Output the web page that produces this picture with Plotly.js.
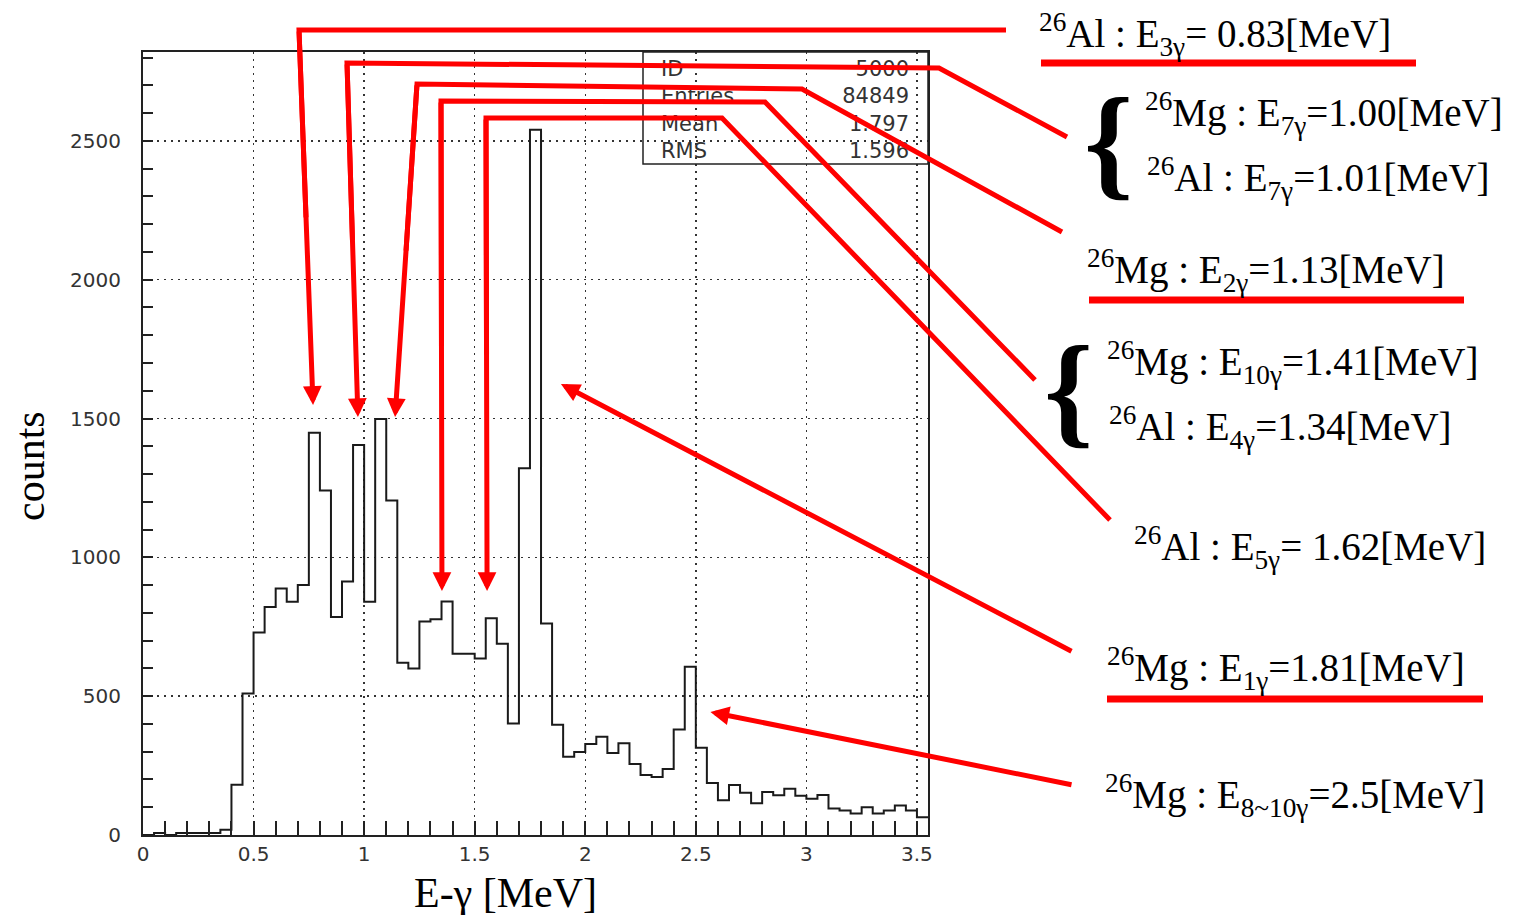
<!DOCTYPE html>
<html>
<head>
<meta charset="utf-8">
<script src="https://cdn.plot.ly/plotly-3.0.1.min.js"></script>
<style>html,body{margin:0;padding:0;background:#fff;}</style>
</head>
<body>
<div id="chart" style="width:1514px;height:915px;"></div>
<script>
// Gamma-ray energy spectrum, 0.05 MeV bins from 0 to 3.55 MeV
const BIN_START = 0;
const BIN_WIDTH = 0.05;
const counts = [
  0, 7, 0, 7, 7, 7, 7, 19, 181, 510,
  729, 821, 888, 840, 900, 1449, 1241, 785, 913, 1405,
  840, 1498, 1205, 620, 600, 769, 777, 841, 653, 653,
  636, 781, 689, 402, 1321, 2540, 762, 397, 282, 299,
  328, 354, 295, 330, 256, 216, 209, 238, 380, 606,
  314, 187, 125, 180, 152, 114, 155, 143, 167, 141,
  131, 144, 95, 88, 77, 100, 77, 88, 106, 88, 64
];

const X_RANGE = [0, 3.55];
const Y_RANGE = [0, 2820];
const xTickVals = [0, 0.5, 1, 1.5, 2, 2.5, 3, 3.5];
const xTickText = ['0', '0.5', '1', '1.5', '2', '2.5', '3', '3.5'];
const yTickVals = [0, 500, 1000, 1500, 2000, 2500];
const yTickText = ['0', '500', '1000', '1500', '2000', '2500'];
const xTitle = 'E-γ [MeV]';
const yTitle = 'counts';

// Statistics box
const statNames = ['ID', 'Entries', 'Mean', 'RMS'];
const statValues = ['5000', '84849', '1.797', '1.596'];

// Peak identifications
const labelTexts = [
  '<sup>26</sup>Al : E<sub>3γ</sub>= 0.83[MeV]',
  '<sup>26</sup>Mg : E<sub>7γ</sub>=1.00[MeV]',
  '<sup>26</sup>Al : E<sub>7γ</sub>=1.01[MeV]',
  '<sup>26</sup>Mg : E<sub>2γ</sub>=1.13[MeV]',
  '<sup>26</sup>Mg : E<sub>10γ</sub>=1.41[MeV]',
  '<sup>26</sup>Al : E<sub>4γ</sub>=1.34[MeV]',
  '<sup>26</sup>Al : E<sub>5γ</sub>= 1.62[MeV]',
  '<sup>26</sup>Mg : E<sub>1γ</sub>=1.81[MeV]',
  '<sup>26</sup>Mg : E<sub>8~10γ</sub>=2.5[MeV]'
];
// where each arrow points on the spectrum (energy in MeV, counts)
const calloutTipEnergy = [0.769, 0.972, 1.140, 1.352, 1.556, 1.890, 2.566];
const calloutTipCounts = [1549, 1505, 1505, 879, 879, 1624, 443];

// ---- page geometry (pixels) ----
const W = 1514, H = 915;
const M = {l: 143, r: 586, t: 52, b: 80};
const PW = W - M.l - M.r, PH = H - M.t - M.b;
const toPaperX = px => (px - M.l) / PW;
const toPaperY = py => (H - M.b - py) / PH;
const toDataX = px => X_RANGE[0] + toPaperX(px) * (X_RANGE[1] - X_RANGE[0]);
const toDataY = py => Y_RANGE[0] + toPaperY(py) * (Y_RANGE[1] - Y_RANGE[0]);
const pxFromDataX = e => M.l + (e - X_RANGE[0]) / (X_RANGE[1] - X_RANGE[0]) * PW;
const pxFromDataY = c => H - M.b - (c - Y_RANGE[0]) / (Y_RANGE[1] - Y_RANGE[0]) * PH;

// connector routes from the labels to the start of each arrow
const calloutRoutes = [
  [[1006, 30], [299, 30]],
  [[1067, 137], [939, 68], [347, 63]],
  [[1062, 232], [802, 89], [417, 84]],
  [[1035, 380], [765, 102], [441, 101]],
  [[1110, 520], [722, 118], [486, 118]],
  [[1073, 652]],
  [[1073, 785]]
];
const labelLeft = [1037, 1143, 1145, 1085, 1105, 1107, 1132, 1105, 1103];
const labelBaseline = [49, 128, 193, 285, 377, 442, 562, 683, 810];
const underlines = [[1041, 1416, 63], [1089, 1464, 300], [1107, 1483, 699]];
const braces = [[1108, 142], [1068, 390]];

const RED = '#ff0000';
const SERIF = 'Liberation Serif, Times New Roman, serif';
const SANS = 'DejaVu Sans, sans-serif';

// histogram drawn as a step outline over the bin edges
const edges = counts.map((_, i) => +(BIN_START + i * BIN_WIDTH).toFixed(4));
edges.push(+(BIN_START + counts.length * BIN_WIDTH).toFixed(4));
const stepY = counts.concat([counts[counts.length - 1]]);

const traces = [{
  type: 'scatter',
  mode: 'lines',
  x: edges,
  y: stepY,
  line: {shape: 'hv', color: '#1a1a1a', width: 2},
  hoverinfo: 'skip'
}];

const shapes = [];
const annotations = [];

// statistics box (drawn first so connectors pass over it)
shapes.push({
  type: 'rect', xref: 'paper', yref: 'paper',
  x0: toPaperX(643), x1: 1, y0: toPaperY(164), y1: 1,
  line: {color: '#222', width: 1.5}, fillcolor: 'rgba(0,0,0,0)',
  label: {text: statNames.join('<br>'), textposition: 'middle left', padding: 15,
          font: {family: SANS, size: 21, color: '#333'}}
});
shapes.push({
  type: 'rect', xref: 'paper', yref: 'paper',
  x0: toPaperX(643), x1: 1, y0: toPaperY(164), y1: 1,
  line: {width: 0}, fillcolor: 'rgba(0,0,0,0)',
  label: {text: statValues.join('<br>'), textposition: 'middle right', padding: 16,
          font: {family: SANS, size: 21, color: '#333'}}
});

// connectors and arrows
calloutRoutes.forEach((route, i) => {
  const bend = route[route.length - 1];
  const tipPx = [pxFromDataX(calloutTipEnergy[i]), pxFromDataY(calloutTipCounts[i])];
  if (route.length > 1) {
    const pts = route.concat([[bend[0] + 0.5 * (tipPx[0] - bend[0]), bend[1] + 0.5 * (tipPx[1] - bend[1])]]);
    const d = pts.map((p, k) => (k ? 'L' : 'M') + toPaperX(p[0]).toFixed(5) + ',' + toPaperY(p[1]).toFixed(5)).join(' ');
    shapes.push({type: 'path', xref: 'paper', yref: 'paper', path: d,
                 line: {color: RED, width: 5}});
  }
  annotations.push({
    xref: 'x', yref: 'y', x: calloutTipEnergy[i], y: calloutTipCounts[i],
    axref: 'x', ayref: 'y', ax: toDataX(bend[0]), ay: toDataY(bend[1]),
    text: '', showarrow: true, arrowhead: 2, arrowsize: 0.75, arrowwidth: 5,
    arrowcolor: RED, standoff: 0, startstandoff: 0
  });
});

underlines.forEach(u => {
  shapes.push({type: 'line', xref: 'paper', yref: 'paper',
               x0: toPaperX(u[0]), x1: toPaperX(u[1]), y0: toPaperY(u[2]), y1: toPaperY(u[2]),
               line: {color: RED, width: 7}});
});

labelTexts.forEach((t, i) => {
  annotations.push({
    xref: 'paper', yref: 'paper', x: toPaperX(labelLeft[i]), y: toPaperY(labelBaseline[i] - 15),
    xanchor: 'left', yanchor: 'middle', showarrow: false, text: t,
    font: {family: SERIF, size: 39, color: '#000'}
  });
});

braces.forEach(b => {
  annotations.push({
    xref: 'paper', yref: 'paper', x: toPaperX(b[0]), y: toPaperY(b[1]),
    xanchor: 'center', yanchor: 'middle', showarrow: false, text: '{',
    font: {family: SERIF, size: 125, color: '#000', weight: 'bold'}
  });
});

// axis titles
annotations.push({
  xref: 'paper', yref: 'paper', x: toPaperX(505), y: toPaperY(893),
  xanchor: 'center', yanchor: 'middle', showarrow: false, text: xTitle,
  font: {family: SERIF, size: 42, color: '#000'}
});
annotations.push({
  xref: 'paper', yref: 'paper', x: toPaperX(30), y: toPaperY(466),
  xanchor: 'center', yanchor: 'middle', showarrow: false, text: yTitle, textangle: -90,
  font: {family: SERIF, size: 42, color: '#000'}
});

const axisCommon = {
  tickmode: 'array', ticks: 'inside', tickwidth: 2, tickcolor: '#222',
  showline: true, linecolor: '#222', linewidth: 2, mirror: true,
  showgrid: true, gridcolor: '#333', gridwidth: 1.5, griddash: '2px,5px',
  zeroline: false, fixedrange: true,
  tickfont: {family: SANS, size: 20, color: '#333'}
};

const layout = {
  width: W, height: H,
  margin: {l: M.l, r: M.r, t: M.t, b: M.b, pad: 0},
  paper_bgcolor: '#ffffff', plot_bgcolor: '#ffffff',
  showlegend: false,
  xaxis: Object.assign({}, axisCommon, {
    range: X_RANGE, tickvals: xTickVals, ticktext: xTickText, ticklen: 14,
    minor: {tickmode: 'linear', tick0: 0, dtick: 0.1, ticks: 'inside', ticklen: 14,
            tickwidth: 2, tickcolor: '#222', showgrid: false}
  }),
  yaxis: Object.assign({}, axisCommon, {
    range: Y_RANGE, tickvals: yTickVals, ticktext: yTickText, ticklen: 10,
    ticklabelstandoff: 16,
    minor: {tickmode: 'linear', tick0: 0, dtick: 100, ticks: 'inside', ticklen: 10,
            tickwidth: 2, tickcolor: '#222', showgrid: false}
  }),
  shapes: shapes,
  annotations: annotations
};

Plotly.newPlot('chart', traces, layout, {staticPlot: true, displayModeBar: false});
</script>
</body>
</html>
